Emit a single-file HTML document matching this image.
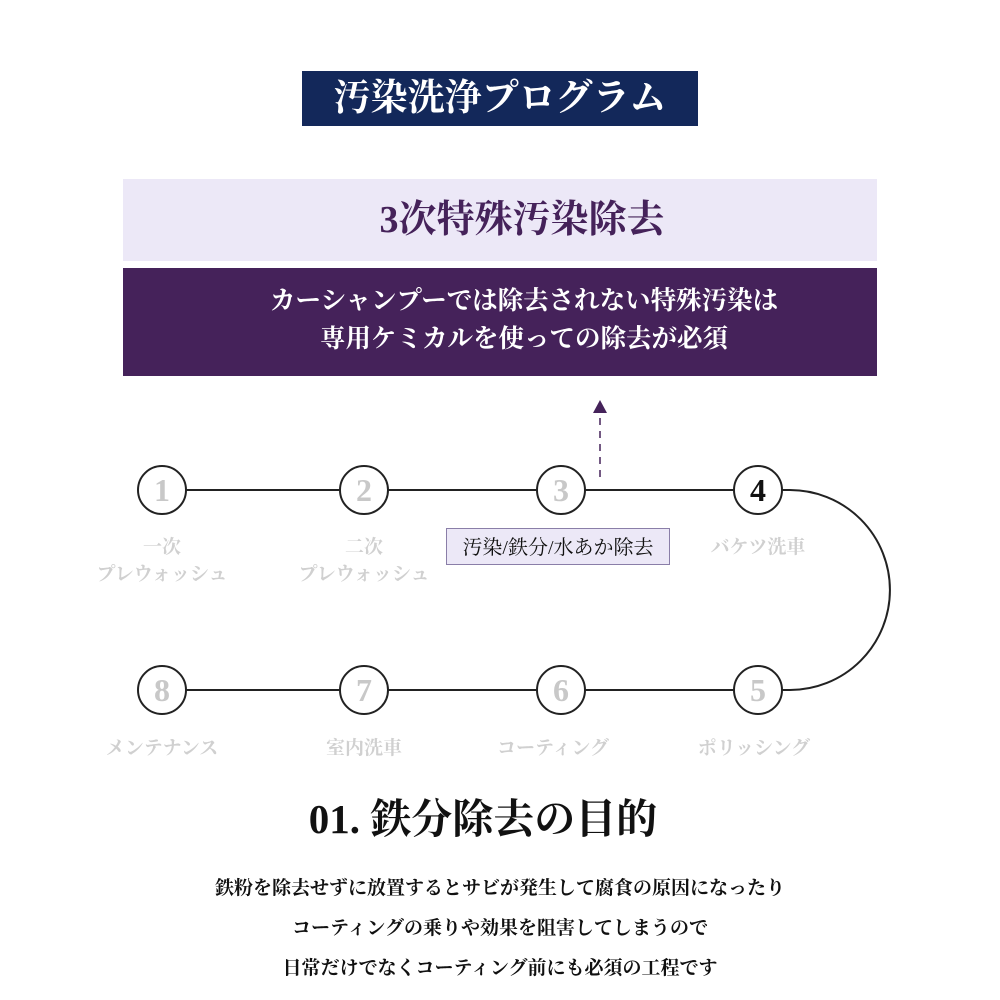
<!DOCTYPE html>
<html><head><meta charset="utf-8"><style>
body{margin:0;width:1000px;height:1000px;background:#fff;position:relative;overflow:hidden;font-family:"Liberation Serif","Noto Serif CJK SC",serif;}
.a{position:absolute;}
.c{text-align:center;}
</style></head><body>
<div class="a c" style="left:302px;top:71px;width:396px;height:55px;background:#13285a;color:#fff;font-size:37px;font-weight:bold;line-height:55px;">汚染洗浄プログラム</div>
<div class="a c" style="left:123px;top:179px;width:754px;height:82px;background:#ece8f7;color:#45225a;font-size:38px;font-weight:bold;line-height:82px;padding-left:44px;box-sizing:border-box;">3次特殊汚染除去</div>
<div class="a c" style="left:123px;top:268px;width:754px;height:108px;background:#45225a;color:#fff;font-size:25.5px;font-weight:bold;line-height:38px;padding-top:14px;padding-left:48px;box-sizing:border-box;">カーシャンプーでは除去されない特殊汚染は<br>専用ケミカルを使っての除去が必須</div>
<svg class="a" style="left:0;top:0" width="1000" height="1000">
<polygon points="600,400 593,413 607,413" fill="#45225a"/>
<line x1="600" y1="418" x2="600" y2="478" stroke="#45225a" stroke-width="1.5" stroke-dasharray="7,6"/>
<g stroke="#222" stroke-width="2" fill="none">
<line x1="186" y1="490" x2="340" y2="490"/><line x1="388" y1="490" x2="537" y2="490"/><line x1="585" y1="490" x2="734" y2="490"/>
<line x1="186" y1="690" x2="340" y2="690"/><line x1="388" y1="690" x2="537" y2="690"/><line x1="585" y1="690" x2="734" y2="690"/>
<path d="M782,490 L790,490 A100,100 0 0 1 790,690 L782,690"/>
</g>
<g stroke="#222" stroke-width="2" fill="#fff">
<circle cx="162" cy="490" r="24"/><circle cx="364" cy="490" r="24"/><circle cx="561" cy="490" r="24"/><circle cx="758" cy="490" r="24"/>
<circle cx="162" cy="690" r="24"/><circle cx="364" cy="690" r="24"/><circle cx="561" cy="690" r="24"/><circle cx="758" cy="690" r="24"/>
</g>
<g font-family="Liberation Serif,serif" font-size="32" font-weight="bold" text-anchor="middle" fill="#c8c8c8">
<text x="162" y="501">1</text><text x="364" y="501">2</text><text x="561" y="501">3</text><text x="758" y="501" fill="#111">4</text>
<text x="162" y="701">8</text><text x="364" y="701">7</text><text x="561" y="701">6</text><text x="758" y="701">5</text>
</g>
<g font-family="Liberation Serif,Noto Serif CJK SC,serif" font-size="19" font-weight="bold" text-anchor="middle" fill="#d0d0d0">
<text x="162" y="553">一次</text><text x="162" y="580">プレウォッシュ</text>
<text x="364" y="553">二次</text><text x="364" y="580">プレウォッシュ</text>
<text x="758" y="553">バケツ洗車</text>
<text x="162" y="754">メンテナンス</text><text x="364" y="754">室内洗車</text><text x="553" y="754">コーティング</text><text x="754" y="754">ポリッシング</text>
</g>
<rect x="446.5" y="528.5" width="223" height="36" fill="#ece8f7" stroke="#8a7ea8" stroke-width="1"/>
<text x="558" y="554" font-family="Liberation Serif,Noto Serif CJK SC,serif" font-size="20" text-anchor="middle" fill="#111">汚染/鉄分/水あか除去</text>
</svg>
<div class="a c" style="left:0;top:791px;width:966px;font-size:41px;font-weight:bold;color:#111;line-height:56px;">01. 鉄分除去の目的</div>
<div class="a c" style="left:0;top:869px;width:1000px;font-size:19px;font-weight:bold;color:#111;line-height:40px;">鉄粉を除去せずに放置するとサビが発生して腐食の原因になったり<br>コーティングの乗りや効果を阻害してしまうので<br>日常だけでなくコーティング前にも必須の工程です</div>
</body></html>
